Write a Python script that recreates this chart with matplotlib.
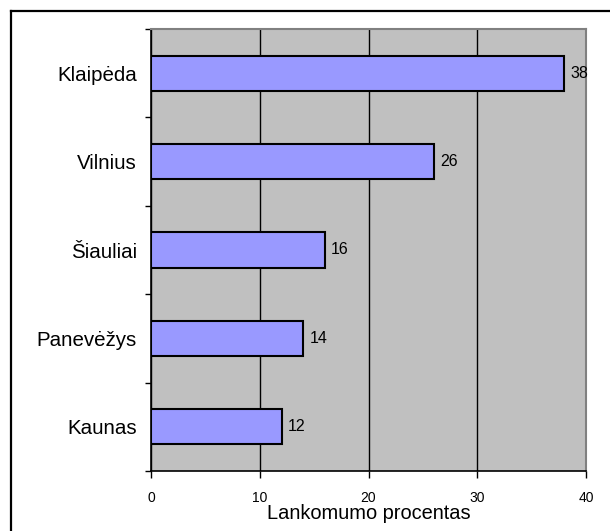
import numpy as np
import matplotlib.pyplot as plt
from matplotlib.lines import Line2D

# Duomenys
cities = ["Kaunas", "Panevėžys", "Šiauliai", "Vilnius", "Klaipėda"]
values = [12, 14, 16, 26, 38]
x_ticks = [0, 10, 20, 30, 40]

plt.rcParams['font.family'] = ['Liberation Sans', 'DejaVu Sans']

fig = plt.figure(figsize=(6.10, 5.31), dpi=100)
ax = fig.add_axes([151 / 610, 1 - 471 / 531, 435 / 610, 442 / 531])
ax.set_facecolor("#C0C0C0")

pos = np.arange(len(cities))
bars = ax.barh(pos, values, height=0.4, color="#9999FF",
               edgecolor="black", linewidth=1.5, zorder=3)
ax.bar_label(bars, labels=[str(v) for v in values], padding=4.5,
             fontsize=11.5)

ax.set_xlim(0, 40)
ax.set_ylim(-0.5, len(cities) - 0.5)
ax.set_xticks(x_ticks, labels=[str(t) for t in x_ticks], fontsize=10)
ax.xaxis.grid(True, color="black", linewidth=1.0, zorder=1)
ax.set_axisbelow(True)

# Kategorijos tarp tick'u
ax.set_yticks(np.arange(-0.5, len(cities), 1.0))
ax.set_yticklabels([])
ax.set_yticks(pos, labels=cities, minor=True, fontsize=14.8)
ax.tick_params(axis="y", which="minor", length=0, pad=10)
ax.tick_params(axis="y", which="major", length=4, width=1, direction="out")
ax.tick_params(axis="x", length=5, width=1, direction="out", pad=9.5)

ax.set_xlabel("Lankomumo procentas", fontsize=14.4, labelpad=-1)

for side in ["top", "right"]:
    ax.spines[side].set_color("#808080")
    ax.spines[side].set_linewidth(1.5)
for side in ["left", "bottom"]:
    ax.spines[side].set_color("black")
    ax.spines[side].set_linewidth(1.2)

# Remelis aplink
x0 = 11 / 610
y0 = 1 - 11 / 531
fig.add_artist(Line2D([x0, x0], [0, y0], color="black", linewidth=1.6))
fig.add_artist(Line2D([x0, 1], [y0, y0], color="black", linewidth=1.6))

fig.savefig("out.png", dpi=100)
